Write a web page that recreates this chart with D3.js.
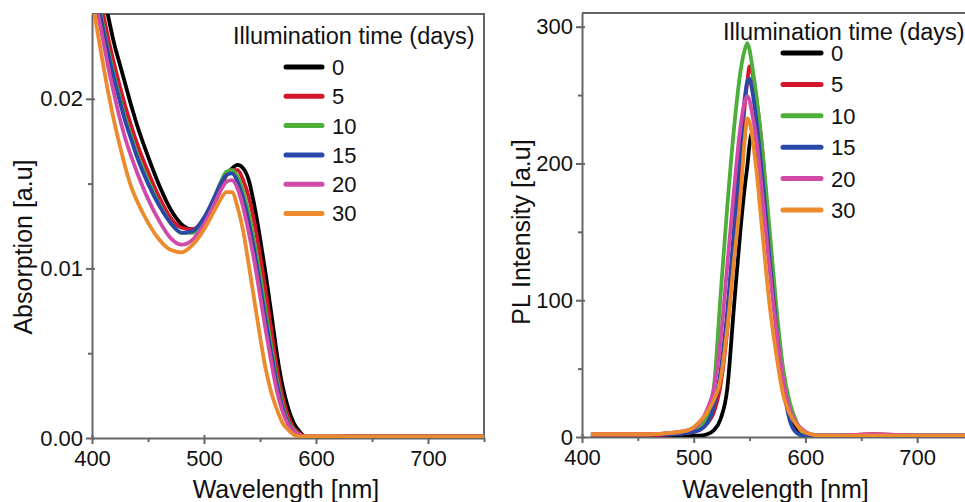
<!DOCTYPE html>
<html>
<head>
<meta charset="utf-8">
<script src="https://cdn.jsdelivr.net/npm/d3@7"></script>
<style>
  html, body { margin: 0; padding: 0; background: #fff; }
  svg { display: block; font-family: "Liberation Sans", Arial, sans-serif; }
  .axis text { font-size: 22px; fill: #111; }
  .axis path, .axis line { stroke: #666; stroke-width: 2; }
  .title { font-size: 25px; fill: #111; }
  .legend text { font-size: 22px; fill: #111; }
</style>
</head>
<body>
<svg id="chart" width="965" height="502"></svg>
<script>
// ---- data ----
const days = ['0', '5', '10', '15', '20', '30'];
const colors = ['#000000', '#d4162c', '#4caf3a', '#2a48a8', '#d24aa8', '#ec8a2e'];

// absorption spectra, wavelength in nm
const absWavelength = [400, 405, 410, 415, 420, 425, 430, 435, 440, 450, 460, 470, 480, 490, 500, 510, 515, 520, 525, 530, 535, 540, 545, 550, 555, 560, 565, 570, 575, 580, 585, 590, 600, 625, 650, 675, 700, 725, 750];
const abs0  = [0.0295, 0.0279, 0.0263, 0.0247, 0.0232, 0.0220, 0.0208, 0.0196, 0.0185, 0.0166, 0.0149, 0.0135, 0.0126, 0.0123, 0.0128, 0.0140, 0.0148, 0.0155, 0.0159, 0.0161, 0.0159, 0.0152, 0.0137, 0.0118, 0.0097, 0.0074, 0.0050, 0.0031, 0.0018, 0.0009, 0.0004, 0.0001, 0.0000, 0.0001, 0.0001, 0.0001, 0.0001, 0.0001, 0.0001];
const abs5  = [0.0283, 0.0266, 0.0250, 0.0234, 0.0220, 0.0207, 0.0195, 0.0184, 0.0174, 0.0157, 0.0142, 0.0130, 0.0124, 0.0123, 0.0129, 0.0141, 0.0149, 0.0155, 0.0158, 0.0158, 0.0152, 0.0142, 0.0127, 0.0108, 0.0087, 0.0064, 0.0042, 0.0025, 0.0013, 0.0006, 0.0003, 0.0001, 0.0001, 0.0001, 0.0001, 0.0001, 0.0001, 0.0001, 0.0001];
const abs10 = [0.0276, 0.0259, 0.0243, 0.0227, 0.0213, 0.0200, 0.0188, 0.0178, 0.0168, 0.0152, 0.0138, 0.0127, 0.0121, 0.0121, 0.0129, 0.0143, 0.0151, 0.0157, 0.0158, 0.0154, 0.0145, 0.0132, 0.0115, 0.0096, 0.0075, 0.0054, 0.0035, 0.0020, 0.0010, 0.0005, 0.0002, 0.0001, 0.0001, 0.0001, 0.0001, 0.0001, 0.0001, 0.0001, 0.0001];
const abs15 = [0.0273, 0.0257, 0.0241, 0.0225, 0.0211, 0.0198, 0.0186, 0.0176, 0.0166, 0.0150, 0.0137, 0.0127, 0.0121, 0.0122, 0.0130, 0.0143, 0.0150, 0.0155, 0.0156, 0.0151, 0.0141, 0.0127, 0.0110, 0.0090, 0.0070, 0.0050, 0.0032, 0.0018, 0.0009, 0.0004, 0.0001, 0.0000, 0.0000, 0.0001, 0.0001, 0.0001, 0.0001, 0.0001, 0.0001];
const abs20 = [0.0268, 0.0251, 0.0234, 0.0217, 0.0202, 0.0188, 0.0176, 0.0166, 0.0157, 0.0141, 0.0128, 0.0118, 0.0114, 0.0117, 0.0126, 0.0139, 0.0146, 0.0151, 0.0152, 0.0147, 0.0136, 0.0121, 0.0104, 0.0084, 0.0064, 0.0045, 0.0028, 0.0016, 0.0008, 0.0004, 0.0002, 0.0001, 0.0001, 0.0001, 0.0001, 0.0001, 0.0001, 0.0001, 0.0001];
const abs30 = [0.0259, 0.0239, 0.0220, 0.0202, 0.0186, 0.0172, 0.0159, 0.0148, 0.0140, 0.0127, 0.0117, 0.0111, 0.01095, 0.0114, 0.0123, 0.0135, 0.0141, 0.0145, 0.0145, 0.0136, 0.0122, 0.0102, 0.0081, 0.0060, 0.0041, 0.0027, 0.0017, 0.0009, 0.0005, 0.0002, 0.0001, 0.0001, 0.0001, 0.0001, 0.0001, 0.0001, 0.0001, 0.0001, 0.0001];

// photoluminescence spectra
const plWavelength = [408, 430, 460, 480, 495, 505, 512, 518, 524, 530, 536, 542, 546, 548, 550, 552, 556, 562, 568, 574, 580, 586, 592, 598, 605, 615, 630, 660, 700, 750];
const pl0  = [1, 1, 1, 1, 1, 1, 2, 5, 13, 35, 95, 153, 185, 198, 214, 222, 205, 170, 128, 82, 42, 18, 6, 2, 1, 1, 1, 1, 1, 1];
const pl5  = [1, 1, 1, 2, 3, 5, 10, 18, 38, 78, 138, 205, 245, 260, 271, 268, 248, 205, 140, 88, 48, 22, 9, 3, 1, 1, 1, 2, 1, 1];
const pl10 = [2, 2, 2, 3, 4, 8, 15, 36, 103, 168, 225, 268, 284, 288, 283, 273, 250, 205, 151, 95, 50, 25, 11, 3, 2, 1, 1, 1, 1, 1];
const pl15 = [2, 2, 2, 2, 3, 5, 10, 22, 48, 92, 152, 215, 250, 260, 262, 255, 232, 185, 130, 80, 38, 12, 3, 1, 1, 1, 1, 1, 1, 1];
const pl20 = [2, 2, 2, 3, 5, 10, 20, 35, 70, 125, 180, 228, 246, 249, 246, 238, 218, 172, 122, 78, 42, 20, 10, 5, 2, 1, 1, 2, 1, 1];
const pl30 = [2, 2, 2, 3, 5, 11, 18, 27, 42, 79, 128, 177, 220, 233, 230, 222, 196, 145, 96, 60, 31, 17, 9, 4, 2, 1, 1, 1, 1, 1];

const xTicks = [400, 500, 600, 700];
const xMinor = [450, 550, 650, 750];
const absTicks = [0, 0.01, 0.02];
const absMinor = [0.005, 0.015];
const plTicks = [0, 100, 200, 300];
const plMinor = [50, 150, 250];

const svg = d3.select('#chart');

function drawPanel(opts) {
    const x = d3.scaleLinear().domain([400, 750]).range(opts.xRange);
    const y = d3.scaleLinear().domain(opts.yDomain).range(opts.yRange);
    const g = svg.append('g');

    const clipId = 'clip-' + opts.id;
    g.append('clipPath').attr('id', clipId)
        .append('rect')
        .attr('x', opts.xRange[0]).attr('y', opts.yRange[1])
        .attr('width', opts.xRange[1] - opts.xRange[0])
        .attr('height', opts.yRange[0] - opts.yRange[1]);

    // frame (top + right)
    g.append('path')
        .attr('d', `M${opts.xRange[0]},${opts.yRange[1]}H${opts.xRange[1]}V${opts.yRange[0]}`)
        .attr('fill', 'none').attr('stroke', '#666').attr('stroke-width', 2);

    // minor ticks
    g.append('g').attr('class', 'axis')
        .attr('transform', `translate(0,${opts.yRange[0]})`)
        .call(d3.axisBottom(x).tickValues(xMinor).tickSize(4).tickFormat(''))
        .select('.domain').remove();
    g.append('g').attr('class', 'axis')
        .attr('transform', `translate(${opts.xRange[0]},0)`)
        .call(d3.axisLeft(y).tickValues(opts.minor).tickSize(4).tickFormat(''))
        .select('.domain').remove();

    // major axes, ticks cross the axis line
    const xAxis = g.append('g').attr('class', 'axis')
        .attr('transform', `translate(0,${opts.yRange[0]})`)
        .call(d3.axisBottom(x).tickValues(xTicks).tickSize(6).tickSizeOuter(0).tickPadding(6));
    xAxis.selectAll('.tick line').attr('y1', -3);
    const yAxis = g.append('g').attr('class', 'axis')
        .attr('transform', `translate(${opts.xRange[0]},0)`)
        .call(d3.axisLeft(y).tickValues(opts.ticks).tickSize(6).tickSizeOuter(0).tickPadding(3)
            .tickFormat(opts.format));
    yAxis.selectAll('.tick line').attr('x1', 3);

    // curves
    const line = d3.line()
        .x((d) => x(d[0]))
        .y((d) => y(d[1]))
        .curve(d3.curveMonotoneX);

    const lines = g.append('g').attr('clip-path', `url(#${clipId})`);
    opts.series.forEach((vals, i) => {
        lines.append('path')
            .datum(opts.wavelength.map((w, j) => [w, vals[j]]))
            .attr('d', line)
            .attr('fill', 'none')
            .attr('stroke', colors[i])
            .attr('stroke-width', 3.8)
            .attr('stroke-linejoin', 'round');
    });

    // titles
    g.append('text').attr('class', 'title')
        .attr('x', (opts.xRange[0] + opts.xRange[1]) / 2 - 2)
        .attr('y', 498)
        .attr('text-anchor', 'middle')
        .text('Wavelength [nm]');
    g.append('text').attr('class', 'title')
        .attr('transform', `translate(${opts.yTitle[0]},${opts.yTitle[1]}) rotate(-90)`)
        .attr('text-anchor', 'middle')
        .attr('dy', '0.35em')
        .text(opts.yLabel);

    // legend
    const lg = g.append('g').attr('class', 'legend');
    lg.append('text')
        .attr('x', opts.legend.titleX).attr('y', opts.legend.titleY)
        .attr('dy', '0.35em')
        .style('font-size', '23.5px')
        .text('Illumination time (days)');
    days.forEach((d, i) => {
        const yy = opts.legend.y0 + i * opts.legend.step;
        lg.append('line')
            .attr('x1', opts.legend.x1).attr('x2', opts.legend.x2)
            .attr('y1', yy).attr('y2', yy)
            .attr('stroke', colors[i]).attr('stroke-width', 5)
            .attr('stroke-linecap', 'round');
        lg.append('text')
            .attr('x', opts.legend.x2 + 10).attr('y', yy)
            .attr('dy', '0.36em')
            .text(d);
    });
}

drawPanel({
    id: 'abs',
    xRange: [92, 484],
    yRange: [438, 14],
    yDomain: [0, 0.025],
    ticks: absTicks,
    minor: absMinor,
    format: d3.format('.2f'),
    wavelength: absWavelength,
    series: [abs0, abs5, abs10, abs15, abs20, abs30],
    yLabel: 'Absorption [a.u]',
    yTitle: [23, 247],
    legend: { titleX: 233, titleY: 36, x1: 286, x2: 322, y0: 67, step: 29.3 }
});

drawPanel({
    id: 'pl',
    xRange: [582, 973],
    yRange: [437, 13],
    yDomain: [0, 310],
    ticks: plTicks,
    minor: plMinor,
    format: d3.format('d'),
    wavelength: plWavelength,
    series: [pl0, pl5, pl10, pl15, pl20, pl30],
    yLabel: 'PL Intensity [a.u]',
    yTitle: [521, 232],
    legend: { titleX: 723, titleY: 32, x1: 783, x2: 821, y0: 53, step: 31.4 }
});
</script>
</body>
</html>
